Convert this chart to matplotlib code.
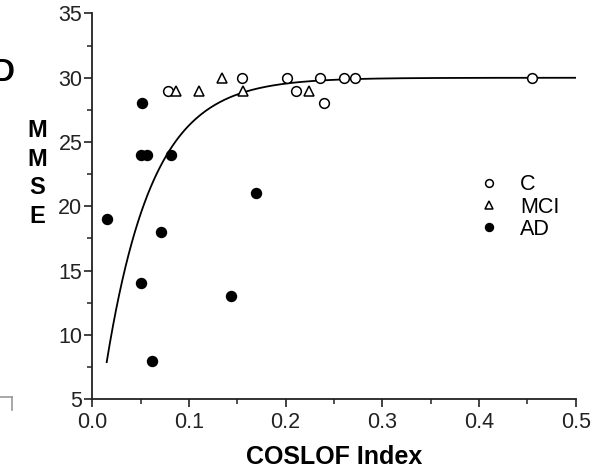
import numpy as np
import matplotlib
matplotlib.use("Agg")
import matplotlib.pyplot as plt
from matplotlib.lines import Line2D

plt.rcParams['font.family'] = ['Liberation Sans', 'DejaVu Sans']

# Data
c_x = [0.078, 0.155, 0.201, 0.211, 0.236, 0.240, 0.260, 0.272, 0.455]
c_y = [29, 30, 30, 29, 30, 28, 30, 30, 30]
mci_x = [0.087, 0.110, 0.134, 0.156, 0.224]
mci_y = [29, 29, 30, 29, 29]
ad_x = [0.015, 0.050, 0.071, 0.062, 0.144, 0.169, 0.081, 0.050, 0.057, 0.052]
ad_y = [19, 14, 18, 8, 13, 21, 24, 24, 24, 28]

# Fitted curve: MMSE = a - b * exp(-k * COSLOF)
fit_a, fit_b, fit_k = 30.0, 30.3, 21.0
fit_range = (0.015, 0.5)

xticks = [0.0, 0.1, 0.2, 0.3, 0.4, 0.5]
yticks = [5, 10, 15, 20, 25, 30, 35]

fig = plt.figure(figsize=(5.91, 4.73), dpi=100)
ax = fig.add_axes([0.156, 0.156, 0.818, 0.8155])

xf = np.linspace(fit_range[0], fit_range[1], 300)
ax.plot(xf, fit_a - fit_b * np.exp(-fit_k * xf), color='black', lw=1.3, zorder=2)

ax.plot(c_x, c_y, 'o', ms=7.0, mfc='white', mec='black', mew=1.1, ls='none', zorder=3, label='C')
ax.plot(mci_x, mci_y, '^', ms=7.5, mfc='white', mec='black', mew=1.1, ls='none', zorder=3, label='MCI')
ax.plot(ad_x, ad_y, 'o', ms=7.2, mfc='black', mec='black', ls='none', zorder=3, label='AD')

ax.set_xlim(0, 0.5)
ax.set_ylim(5, 35)
ax.set_xticks(xticks)
ax.set_xticklabels([f"{v:.1f}" for v in xticks])
ax.set_yticks(yticks)
ax.set_xticks(np.arange(0.05, 0.5, 0.1), minor=True)
ax.set_yticks(np.arange(7.5, 35, 5), minor=True)

for s in ['top', 'right']:
    ax.spines[s].set_visible(False)
for s in ['left', 'bottom']:
    ax.spines[s].set_linewidth(1.3)
    ax.spines[s].set_color('#222222')

ax.tick_params(which='major', length=6, width=1.2, labelsize=15.5, pad=1, colors='#222222')
ax.tick_params(which='minor', length=3.5, width=1.1, colors='#222222')
ax.tick_params(axis='x', which='major', pad=3)

ax.set_xlabel('COSLOF Index', fontsize=18, fontweight='bold', labelpad=9)
ax.set_ylabel('M\nM\nS\nE', rotation=0, fontsize=17, fontweight='bold', linespacing=1.32,
              va='center', ha='center')
ax.yaxis.set_label_coords(-0.113, 0.585)

leg = ax.legend(loc='upper left', bbox_to_anchor=(0.78, 0.605), frameon=False,
                fontsize=15.5, handletextpad=0.95, labelspacing=0.05,
                handlelength=1.0, markerscale=0.8, borderaxespad=0)

fig.text(0.025, 0.845, 'D', fontsize=22, fontweight='bold', ha='right', va='center')

fig.add_artist(Line2D([0.0, 0.021], [1 - 397 / 473, 1 - 397 / 473], color='#999999', lw=1.2,
                      transform=fig.transFigure))
fig.add_artist(Line2D([0.021, 0.021], [1 - 397 / 473, 1 - 410 / 473], color='#999999', lw=1.2,
                      transform=fig.transFigure))

fig.savefig('out.png', dpi=100)
